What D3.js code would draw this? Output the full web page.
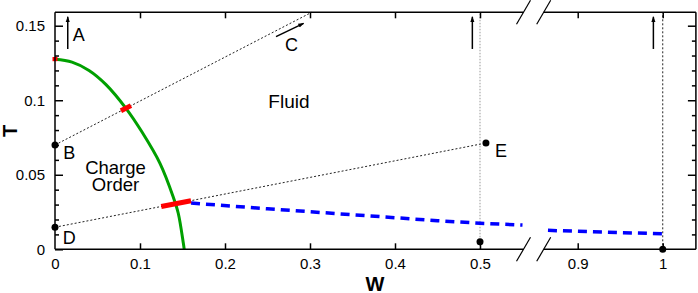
<!DOCTYPE html>
<html>
<head>
<meta charset="utf-8">
<script src="https://cdn.jsdelivr.net/npm/d3@7"></script>
<style>
  body { margin: 0; background: #fff; }
  text { font-family: "Liberation Sans", Arial, sans-serif; }
</style>
</head>
<body>
<div id="chart"></div>
<script>
// phase boundary (green)
var greenW = [0, 0.02, 0.04, 0.06, 0.0835, 0.102, 0.1235, 0.139, 0.145, 0.151, 0.152];
var greenT = [0.1275, 0.1256, 0.1200, 0.1105, 0.0946, 0.0790, 0.0577, 0.0353, 0.0242, 0.004, 0];

// blue dashed line, two pieces either side of the axis break
var blueW1 = [0.16, 0.25, 0.35, 0.45, 0.5, 0.55];
var blueT1 = [0.031, 0.0272, 0.0232, 0.0192, 0.0175, 0.0163];
var blueW2 = [0.865, 0.9, 0.95, 1.0];
var blueT2 = [0.0127, 0.0121, 0.0112, 0.0104];

// red marks: [W0, T0, W1, T1]
var redMarks = [
  [0, 0.1262, 0, 0.1290],
  [0.0776, 0.0929, 0.0894, 0.0964],
  [0.125, 0.0287, 0.160, 0.0326]
];

// dotted guide lines
var guideLines = [
  [0, 0.070, 0.302, 0.159],
  [0, 0.0148, 0.507, 0.0713]
];
var vertW = [0.5, 1.0];

// black dots
var dotW = [0, 0, 0.507, 0.5, 1.0];
var dotT = [0.070, 0.0148, 0.0713, 0.005, 0];

// arrows
var arrowW = [0.015, 0.491, 0.989];
var arrowT0 = 0.1344, arrowT1 = 0.156;
var arrowC = [0.26, 0.1427, 0.2925, 0.1516];

// ticks
var xTicks1 = [0, 0.1, 0.2, 0.3, 0.4, 0.5];
var xTicks2 = [0.9, 1];
var yTicks = [0, 0.05, 0.1, 0.15];
var yMinor = [0.01, 0.02, 0.03, 0.04, 0.06, 0.07, 0.08, 0.09, 0.11, 0.12, 0.13, 0.14];

var width = 698, height = 293;
var svg = d3.select("#chart").append("svg")
  .attr("width", width).attr("height", height);

var x1 = d3.scaleLinear().domain([0, 0.55]).range([55, 522.5]);
var x2 = d3.scaleLinear().domain([0.86, 1.039]).range([543.7, 695.9]);
var y = d3.scaleLinear().domain([0, 0.159]).range([249.3, 12.3]);
function xs(w){ return w <= 0.7 ? x1(w) : x2(w); }

var defs = svg.append("defs");
defs.append("marker")
  .attr("id", "head")
  .attr("viewBox", "0 0 10 10")
  .attr("refX", 9).attr("refY", 5)
  .attr("markerWidth", 6).attr("markerHeight", 6)
  .attr("markerUnits", "userSpaceOnUse")
  .attr("orient", "auto")
  .append("path")
    .attr("d", "M0,1.5 L10,5 L0,8.5 Z")
    .attr("fill", "black");

// dotted guides
svg.selectAll(".guide")
  .data(guideLines)
  .enter().append("line")
    .attr("x1", function(d){ return xs(d[0]); })
    .attr("y1", function(d){ return y(d[1]); })
    .attr("x2", function(d){ return xs(d[2]); })
    .attr("y2", function(d){ return y(d[3]); })
    .attr("stroke", "#222").attr("stroke-width", 1)
    .attr("stroke-dasharray", "2,2");

svg.selectAll(".vert")
  .data(vertW)
  .enter().append("line")
    .attr("x1", function(d){ return xs(d); })
    .attr("x2", function(d){ return xs(d); })
    .attr("y1", y(0)).attr("y2", y(0.159))
    .attr("stroke", function(d, i){ return i == 0 ? "#999" : "#222"; })
    .attr("stroke-width", 1)
    .attr("stroke-dasharray", function(d, i){ return i == 0 ? "1.5,1.5" : "2,2"; });

// green boundary
var greenPts = greenW.map(function(w, i){ return [w, greenT[i]]; });
var line = d3.line()
  .x(function(d){ return xs(d[0]); })
  .y(function(d){ return y(d[1]); });
svg.append("path")
  .attr("d", line.curve(d3.curveCatmullRom.alpha(0.5))(greenPts))
  .attr("fill", "none").attr("stroke", "#00a000").attr("stroke-width", 3);

// blue dashed
[[blueW1, blueT1], [blueW2, blueT2]].forEach(function(s){
  var pts = s[0].map(function(w, i){ return [w, s[1][i]]; });
  svg.append("path")
    .attr("d", line.curve(d3.curveLinear)(pts))
    .attr("fill", "none").attr("stroke", "#0000ff").attr("stroke-width", 3.5)
    .attr("stroke-dasharray", "9,6");
});

// red marks
svg.selectAll(".red")
  .data(redMarks)
  .enter().append("line")
    .attr("x1", function(d){ return xs(d[0]); })
    .attr("y1", function(d){ return y(d[1]); })
    .attr("x2", function(d){ return xs(d[2]); })
    .attr("y2", function(d){ return y(d[3]); })
    .attr("stroke", "#ff0000").attr("stroke-width", 5);

// dots
svg.selectAll(".dot")
  .data(dotW)
  .enter().append("circle")
    .attr("cx", function(d){ return xs(d); })
    .attr("cy", function(d, i){ return y(dotT[i]); })
    .attr("r", 3.5).attr("fill", "black");

// arrows
svg.selectAll(".arrow")
  .data(arrowW)
  .enter().append("line")
    .attr("x1", function(d){ return xs(d); })
    .attr("x2", function(d){ return xs(d); })
    .attr("y1", y(arrowT0)).attr("y2", y(arrowT1))
    .attr("stroke", "black").attr("stroke-width", 1.5)
    .attr("marker-end", "url(#head)");
svg.append("line")
  .attr("x1", xs(arrowC[0])).attr("y1", y(arrowC[1]))
  .attr("x2", xs(arrowC[2])).attr("y2", y(arrowC[3]))
  .attr("stroke", "black").attr("stroke-width", 1.5)
  .attr("marker-end", "url(#head)");

// axes
function styleAxis(g){
  g.select(".domain").remove();
  g.selectAll("line").attr("stroke", "black").attr("stroke-width", 1.5);
  g.selectAll("text").attr("font-size", "15px").attr("fill", "black")
    .attr("font-family", "Liberation Sans, Arial, sans-serif");
}
var fmt = function(d){ return String(d); };

svg.append("g").attr("transform", "translate(0," + y(0) + ")")
  .call(d3.axisBottom(x1).tickValues(xTicks1).tickSize(-6).tickPadding(9.5).tickFormat(fmt))
  .call(styleAxis)
  .call(function(g){ g.selectAll(".tick line").filter(function(d){ return d === 0; }).remove(); });
svg.append("g").attr("transform", "translate(0," + y(0) + ")")
  .call(d3.axisBottom(x2).tickValues(xTicks2).tickSize(-6).tickPadding(9.5).tickFormat(fmt))
  .call(styleAxis);
svg.append("g").attr("transform", "translate(0," + y(0.159) + ")")
  .call(d3.axisTop(x1).tickValues(xTicks1.slice(1)).tickSize(-6).tickFormat(""))
  .call(styleAxis);
svg.append("g").attr("transform", "translate(0," + y(0.159) + ")")
  .call(d3.axisTop(x2).tickValues(xTicks2).tickSize(-6).tickFormat(""))
  .call(styleAxis);

svg.append("g").attr("transform", "translate(" + x1(0) + ",0)")
  .call(d3.axisLeft(y).tickValues(yTicks).tickSize(-8).tickPadding(10).tickFormat(fmt))
  .call(styleAxis);
svg.append("g").attr("transform", "translate(" + x1(0) + ",0)")
  .call(d3.axisLeft(y).tickValues(yMinor).tickSize(-4).tickFormat(""))
  .call(styleAxis);
svg.append("g").attr("transform", "translate(" + x2(1.039) + ",0)")
  .call(d3.axisRight(y).tickValues(yTicks.slice(1)).tickSize(-8).tickFormat(""))
  .call(styleAxis);
svg.append("g").attr("transform", "translate(" + x2(1.039) + ",0)")
  .call(d3.axisRight(y).tickValues(yMinor).tickSize(-4).tickFormat(""))
  .call(styleAxis);

// frame, broken between the two segments
var frame = svg.append("g").attr("stroke", "black").attr("stroke-width", 1.5);
[y(0), y(0.159)].forEach(function(yy){
  frame.append("line").attr("x1", x1(0)).attr("x2", x1(0.55) + 1).attr("y1", yy).attr("y2", yy);
  frame.append("line").attr("x1", x2(0.86)).attr("x2", x2(1.039)).attr("y1", yy).attr("y2", yy);
  [x1(0.55) + 1, x2(0.86)].forEach(function(xx){
    frame.append("line").attr("x1", xx - 7).attr("y1", yy + 12)
      .attr("x2", xx + 7).attr("y2", yy - 12).attr("stroke-width", 1.2);
  });
});
frame.append("line").attr("x1", x1(0)).attr("x2", x1(0)).attr("y1", y(0)).attr("y2", y(0.159));
frame.append("line").attr("x1", x2(1.039)).attr("x2", x2(1.039)).attr("y1", y(0)).attr("y2", y(0.159));

// axis titles
svg.append("text")
  .attr("x", 375).attr("y", 290.5)
  .attr("text-anchor", "middle")
  .attr("font-size", "20px").attr("font-weight", "bold")
  .text("W");
svg.append("text")
  .attr("transform", "translate(17,131) rotate(-90)")
  .attr("text-anchor", "middle")
  .attr("font-size", "20px").attr("font-weight", "bold")
  .text("T");

// annotations
var letters = [
  ["A", 0.021, 0.140], ["B", 0.0098, 0.0606], ["C", 0.2706, 0.1328],
  ["D", 0.009, 0.0036], ["E", 0.5176, 0.062]
];
svg.selectAll(".lab")
  .data(letters)
  .enter().append("text")
    .attr("x", function(d){ return xs(d[1]); })
    .attr("y", function(d){ return y(d[2]); })
    .attr("font-size", "18px")
    .text(function(d){ return d[0]; });

svg.append("text")
  .attr("x", xs(0.251)).attr("y", y(0.095))
  .attr("font-size", "19px")
  .text("Fluid");
svg.append("text")
  .attr("x", xs(0.0712)).attr("y", y(0.0505))
  .attr("text-anchor", "middle")
  .attr("font-size", "18.5px")
  .text("Charge");
svg.append("text")
  .attr("x", xs(0.0712)).attr("y", y(0.0393))
  .attr("text-anchor", "middle")
  .attr("font-size", "18.5px")
  .text("Order");
</script>
</body>
</html>
